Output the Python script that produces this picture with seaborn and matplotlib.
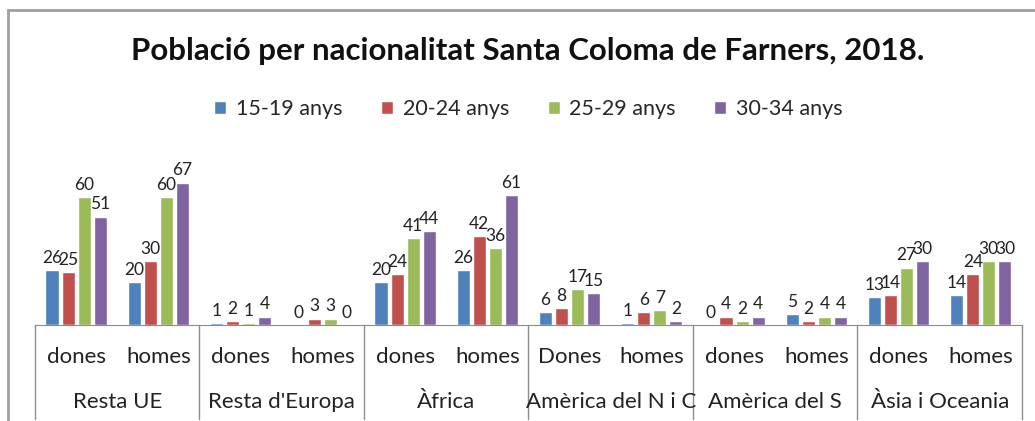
import pandas as pd
import matplotlib.pyplot as plt
import seaborn as sns
from matplotlib.patches import Rectangle

# data
regions = ["Resta UE", "Resta d'Europa", "Àfrica", "Amèrica del N i C", "Amèrica del S", "Àsia i Oceania"]
genders = [["dones", "homes"], ["dones", "homes"], ["dones", "homes"],
           ["Dones", "homes"], ["dones", "homes"], ["dones", "homes"]]
ages = ["15-19 anys", "20-24 anys", "25-29 anys", "30-34 anys"]
v15_19 = [26, 20, 1, 0, 20, 26, 6, 1, 0, 5, 13, 14]
v20_24 = [25, 30, 2, 3, 24, 42, 8, 6, 4, 2, 14, 24]
v25_29 = [60, 60, 1, 3, 41, 36, 17, 7, 2, 4, 27, 30]
v30_34 = [51, 67, 4, 0, 44, 61, 15, 2, 4, 4, 30, 30]
colors = ["#4F81BD", "#C0504D", "#9BBB59", "#8064A2"]

cats = [f"{r}|{g}" for r, gs in zip(regions, genders) for g in gs]
rows = []
for age, vals in zip(ages, [v15_19, v20_24, v25_29, v30_34]):
    for c, v in zip(cats, vals):
        rows.append({"cat": c, "age": age, "value": v})
df = pd.DataFrame(rows)

sns.set_style("white")
plt.rcParams["font.family"] = ["Lato", "DejaVu Sans"]

fig = plt.figure(figsize=(10.35, 4.21), dpi=100)
ax = fig.add_axes([0.0338, 0.228, 0.9536, 0.404])

sns.barplot(data=df, x="cat", y="value", hue="age", order=cats, hue_order=ages,
            palette=colors, width=0.78, gap=0.18, saturation=1, ax=ax)

for cont in ax.containers:
    ax.bar_label(cont, padding=3, fontsize=12.5, color="#222222")

ax.set_ylim(0, 80)
ax.set_xlim(-0.5, len(cats) - 0.5)
ax.set_yticks([])
ax.set_xlabel("")
ax.set_ylabel("")
for s in ["top", "right", "left"]:
    ax.spines[s].set_visible(False)
ax.spines["bottom"].set_color("#8c8c8c")

ax.set_xticks(range(len(cats)))
ax.set_xticklabels([c.split("|")[1] for c in cats], fontsize=16, color="#222222")
ax.tick_params(axis="x", length=0, pad=16)

trans = ax.get_xaxis_transform()
for i, r in enumerate(regions):
    ax.text(2 * i + 0.5, -0.45, r, transform=trans, ha="center", va="center",
            fontsize=16, color="#222222")
for b in range(len(regions) + 1):
    ax.plot([2 * b - 0.5, 2 * b - 0.5], [0, -0.55], transform=trans,
            color="#8c8c8c", lw=1, clip_on=False)

leg = ax.legend(loc="center", bbox_to_anchor=(0.5, 1.27), ncol=4, frameon=False,
                fontsize=15.5, handlelength=0.55, handleheight=0.55, columnspacing=1.8,
                handletextpad=0.45)

fig.text(0.51, 0.88, "Població per nacionalitat Santa Coloma de Farners, 2018.",
         ha="center", va="center", fontsize=22.5, fontweight="bold", color="#111111")

# outer chart frame
fig.patches.append(Rectangle((8 / 1035, -0.1), 1.2, (421 - 10) / 421 + 0.1,
                             transform=fig.transFigure, fill=False,
                             edgecolor="#a0a0a0", lw=2))

fig.savefig("out.png", dpi=100)
